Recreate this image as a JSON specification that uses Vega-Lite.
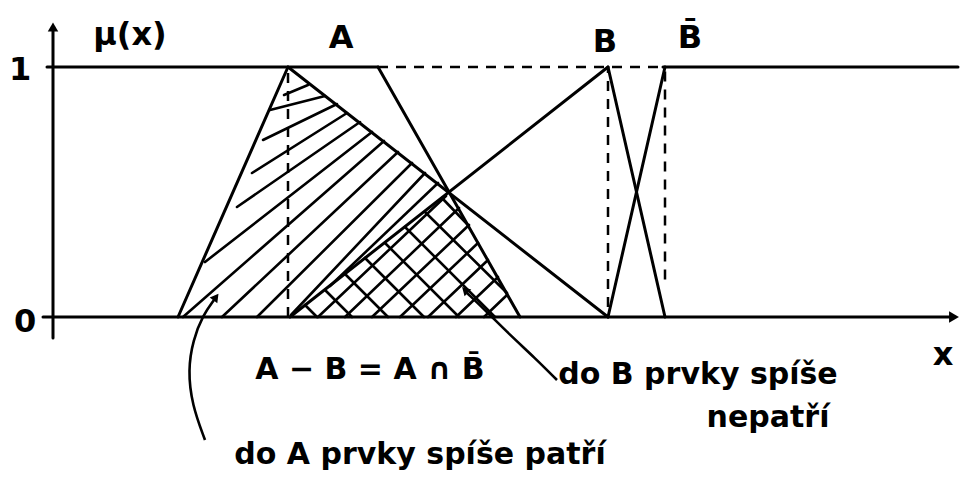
{
  "$schema": "https://vega.github.io/schema/vega-lite/v6.json",
  "width": 973,
  "height": 485,
  "autosize": {"type": "fit", "contains": "padding"},
  "padding": 0,
  "background": "white",
  "config": {"view": {"stroke": null}},
  "datasets": {
    "segs": [
      {"role": "solid", "x": 12.8, "y": 0, "x2": 23.8, "y2": 1},
      {"role": "solid", "x": 32.8, "y": 1, "x2": 47, "y2": 0},
      {"role": "solid", "x": 24, "y": 0, "x2": 55.8, "y2": 1},
      {"role": "solid", "x": 55.8, "y": 1, "x2": 61.5, "y2": 0},
      {"role": "solid", "x": 23.8, "y": 1, "x2": 55.8, "y2": 0},
      {"role": "solid", "x": 55.8, "y": 0, "x2": 61.5, "y2": 1},
      {"role": "solid", "x": -0.3, "y": 1, "x2": 32.8, "y2": 1},
      {"role": "solid", "x": 61.3, "y": 1, "x2": 90.8, "y2": 1},
      {"role": "solid", "x": -0.7, "y": 0, "x2": 90, "y2": 0},
      {"role": "solid", "x": 0.3, "y": -0.084, "x2": 0.3, "y2": 1.15},
      {"role": "dashed", "x": 32.8, "y": 1, "x2": 61.3, "y2": 1},
      {"role": "dashed", "x": 23.8, "y": 0, "x2": 23.8, "y2": 1},
      {"role": "dashed", "x": 55.8, "y": 0.04, "x2": 55.8, "y2": 1},
      {"role": "dashed", "x": 61.5, "y": 0.15, "x2": 61.5, "y2": 1},
      {"role": "hatch", "x": 23.4, "y": 0.888, "x2": 25.8, "y2": 0.928},
      {"role": "hatch", "x": 22.0, "y": 0.828, "x2": 27.5, "y2": 0.884},
      {"role": "hatch", "x": 21.3, "y": 0.708, "x2": 28.7, "y2": 0.852},
      {"role": "hatch", "x": 20.2, "y": 0.576, "x2": 29.7, "y2": 0.816},
      {"role": "hatch", "x": 18.7, "y": 0.44, "x2": 31.0, "y2": 0.78},
      {"role": "hatch", "x": 15.5, "y": 0.22, "x2": 32.2, "y2": 0.74},
      {"role": "hatch", "x": 13.3, "y": 0, "x2": 33.4, "y2": 0.704},
      {"role": "hatch", "x": 17.2, "y": 0, "x2": 34.8, "y2": 0.66},
      {"role": "hatch", "x": 20.7, "y": 0, "x2": 36.2, "y2": 0.616},
      {"role": "hatch", "x": 24.1, "y": 0.008, "x2": 37.5, "y2": 0.576},
      {"role": "hatch", "x": 28.0, "y": 0.124, "x2": 38.8, "y2": 0.536},
      {"role": "hatch", "x": 26.8, "y": 0, "x2": 39.6, "y2": 0.484},
      {"role": "hatch", "x": 29.5, "y": 0, "x2": 40.9, "y2": 0.436},
      {"role": "hatch", "x": 32.2, "y": 0, "x2": 41.9, "y2": 0.368},
      {"role": "hatch", "x": 35.0, "y": 0, "x2": 42.8, "y2": 0.296},
      {"role": "hatch", "x": 37.8, "y": 0, "x2": 43.8, "y2": 0.228},
      {"role": "hatch", "x": 40.6, "y": 0, "x2": 44.8, "y2": 0.16},
      {"role": "hatch", "x": 43.4, "y": 0, "x2": 45.7, "y2": 0.088},
      {"role": "hatch", "x": 25.5, "y": 0.048, "x2": 26.7, "y2": 0},
      {"role": "hatch", "x": 27.5, "y": 0.108, "x2": 30.2, "y2": 0},
      {"role": "hatch", "x": 29.5, "y": 0.172, "x2": 33.8, "y2": 0},
      {"role": "hatch", "x": 31.5, "y": 0.236, "x2": 37.4, "y2": 0},
      {"role": "hatch", "x": 33.5, "y": 0.296, "x2": 40.9, "y2": 0},
      {"role": "hatch", "x": 35.5, "y": 0.36, "x2": 44.5, "y2": 0},
      {"role": "hatch", "x": 37.5, "y": 0.42, "x2": 45.7, "y2": 0.096},
      {"role": "hatch", "x": 39.2, "y": 0.476, "x2": 41.8, "y2": 0.368}
    ],
    "arrows": [
      {"id": "a", "ord": 1, "x": 15.5, "y": -0.492},
      {"id": "a", "ord": 2, "x": 14.2, "y": -0.352},
      {"id": "a", "ord": 3, "x": 13.8, "y": -0.212},
      {"id": "a", "ord": 4, "x": 14.3, "y": -0.092},
      {"id": "a", "ord": 5, "x": 15.3, "y": 0.008},
      {"id": "a", "ord": 6, "x": 16.4, "y": 0.068},
      {"id": "b", "ord": 1, "x": 50.7, "y": -0.252},
      {"id": "b", "ord": 2, "x": 48.5, "y": -0.164},
      {"id": "b", "ord": 3, "x": 46.0, "y": -0.072},
      {"id": "b", "ord": 4, "x": 43.5, "y": 0.028},
      {"id": "b", "ord": 5, "x": 41.7, "y": 0.096}
    ],
    "marks": [
      {"label": "μ(x)", "x": 8.0, "y": 1.13},
      {"label": "A", "x": 29.1, "y": 1.116},
      {"label": "B", "x": 55.5, "y": 1.1},
      {"label": "B̄", "x": 64.0, "y": 1.116},
      {"label": "1", "x": -3.0, "y": 0.988},
      {"label": "0", "x": -2.5, "y": -0.02},
      {"label": "x", "x": 89.3, "y": -0.152}
    ],
    "notes": [
      {"label": "A − B = A ∩ B̄", "x": 32.0, "y": -0.212},
      {"label": "do B prvky spíše", "x": 64.8, "y": -0.232},
      {"label": "nepatří", "x": 71.8, "y": -0.404},
      {"label": "do A prvky spíše patří", "x": 37.0, "y": -0.552}
    ]
  },
  "layer": [
    {
      "data": {"name": "segs"},
      "transform": [{"filter": "datum.role === 'solid'"}],
      "mark": {"type": "rule", "color": "black", "strokeWidth": 3, "strokeCap": "round"},
      "encoding": {
        "x": {"field": "x", "type": "quantitative", "scale": {"domain": [-5, 92.3], "nice": false, "zero": false}, "axis": null},
        "y": {"field": "y", "type": "quantitative", "scale": {"domain": [-0.672, 1.268], "nice": false, "zero": false}, "axis": null},
        "x2": {"field": "x2"},
        "y2": {"field": "y2"}
      }
    },
    {
      "data": {"name": "segs"},
      "transform": [{"filter": "datum.role === 'dashed'"}],
      "mark": {"type": "rule", "color": "black", "strokeWidth": 2.5, "strokeDash": [10, 8]},
      "encoding": {
        "x": {"field": "x", "type": "quantitative"},
        "y": {"field": "y", "type": "quantitative"},
        "x2": {"field": "x2"},
        "y2": {"field": "y2"}
      }
    },
    {
      "data": {"name": "segs"},
      "transform": [{"filter": "datum.role === 'hatch'"}],
      "mark": {"type": "rule", "color": "black", "strokeWidth": 2.6, "strokeCap": "round"},
      "encoding": {
        "x": {"field": "x", "type": "quantitative"},
        "y": {"field": "y", "type": "quantitative"},
        "x2": {"field": "x2"},
        "y2": {"field": "y2"}
      }
    },
    {
      "data": {"name": "arrows"},
      "mark": {"type": "line", "color": "black", "strokeWidth": 2.6, "interpolate": "basis"},
      "encoding": {
        "x": {"field": "x", "type": "quantitative"},
        "y": {"field": "y", "type": "quantitative"},
        "detail": {"field": "id"},
        "order": {"field": "ord"}
      }
    },
    {
      "data": {"values": [{"x": 90.4, "y": 0}]},
      "mark": {"type": "point", "shape": "triangle-up", "angle": 90, "filled": true, "color": "black", "size": 130, "opacity": 1},
      "encoding": {"x": {"field": "x", "type": "quantitative"}, "y": {"field": "y", "type": "quantitative"}}
    },
    {
      "data": {"values": [{"x": 0.3, "y": 1.16}]},
      "mark": {"type": "point", "shape": "triangle-up", "angle": 0, "filled": true, "color": "black", "size": 110, "opacity": 1},
      "encoding": {"x": {"field": "x", "type": "quantitative"}, "y": {"field": "y", "type": "quantitative"}}
    },
    {
      "data": {"values": [{"x": 16.6, "y": 0.08}]},
      "mark": {"type": "point", "shape": "triangle-up", "angle": 37, "filled": true, "color": "black", "size": 90, "opacity": 1},
      "encoding": {"x": {"field": "x", "type": "quantitative"}, "y": {"field": "y", "type": "quantitative"}}
    },
    {
      "data": {"values": [{"x": 41.5, "y": 0.108}]},
      "mark": {"type": "point", "shape": "triangle-up", "angle": 315, "filled": true, "color": "black", "size": 90, "opacity": 1},
      "encoding": {"x": {"field": "x", "type": "quantitative"}, "y": {"field": "y", "type": "quantitative"}}
    },
    {
      "data": {"name": "marks"},
      "mark": {"type": "text", "color": "black", "font": "DejaVu Sans", "fontSize": 32, "fontWeight": "bold", "align": "center", "baseline": "middle"},
      "encoding": {
        "x": {"field": "x", "type": "quantitative"},
        "y": {"field": "y", "type": "quantitative"},
        "text": {"field": "label"}
      }
    },
    {
      "data": {"name": "notes"},
      "mark": {"type": "text", "color": "black", "font": "DejaVu Sans", "fontSize": 30, "fontWeight": "bold", "align": "center", "baseline": "middle"},
      "encoding": {
        "x": {"field": "x", "type": "quantitative"},
        "y": {"field": "y", "type": "quantitative"},
        "text": {"field": "label"}
      }
    }
  ]
}
